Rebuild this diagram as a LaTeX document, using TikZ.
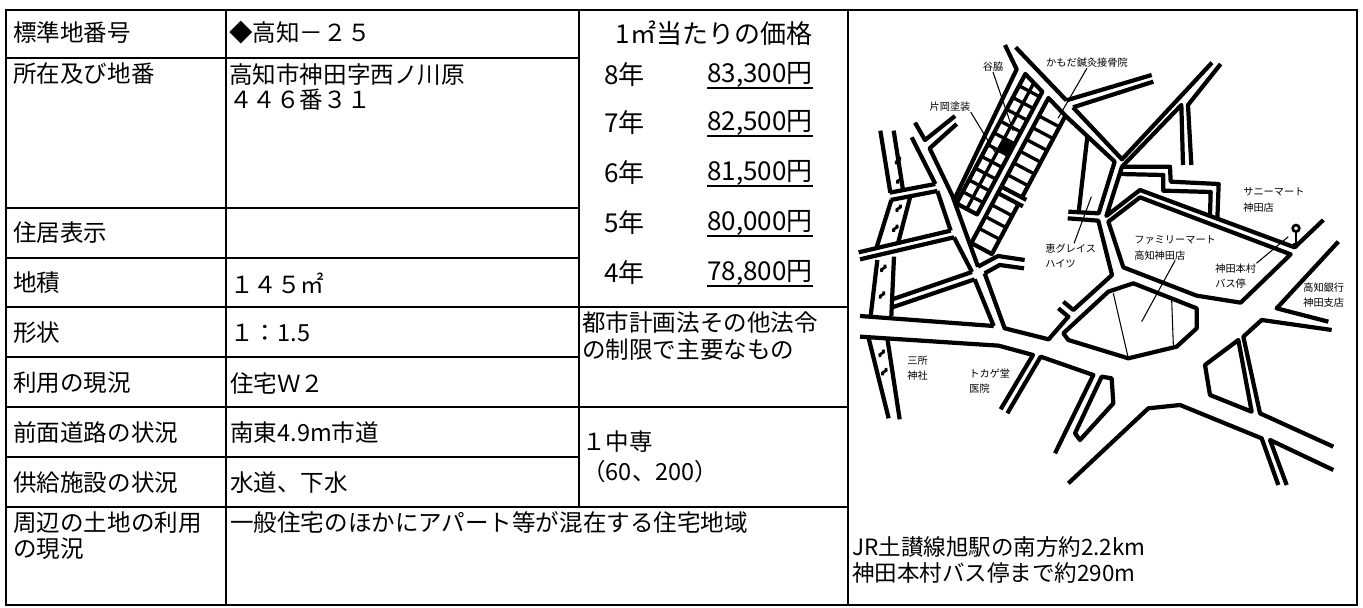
\documentclass[tikz,border=0pt]{standalone}
\usepackage{fontspec}
\setmainfont{Noto Sans CJK JP}
\begin{document}
\begin{tikzpicture}[
        x=0.02cm, y=-0.02cm,
        frame/.style={line width=1.5pt},
        rule/.style={line width=1.1pt},
        cell/.style={anchor=west, inner sep=0pt, align=left, font=\fontsize{13.4}{14.7}\selectfont},
        price/.style={anchor=west, inner sep=0pt, font=\fontsize{14.8}{17}\selectfont},
        note/.style={anchor=west, inner sep=0pt, font=\fontsize{12.8}{15}\selectfont},
        place/.style={inner sep=0pt, align=left, font=\fontsize{5.8}{8.8}\selectfont},
        road/.style={line width=2.4pt, line join=round},
        lot/.style={line width=1.9pt},
        wave/.style={line width=1.6pt},
        lead/.style={line width=0.6pt},
        underline/.style={line width=0.9pt}
      ]
      \useasboundingbox (0,0) rectangle (1363,608);

      % Table frame
      \draw[frame] (6,10) rectangle (1357,605);
      \draw[rule] (226,10) -- (226,605);
      \draw[rule] (579,10) -- (579,507);
      \draw[rule] (848,10) -- (848,605);
      \draw[rule] (6,58) -- (579,58);
      \draw[rule] (6,208) -- (579,208);
      \draw[rule] (6,258) -- (579,258);
      \draw[rule] (6,307) -- (848,307);
      \draw[rule] (6,357) -- (579,357);
      \draw[rule] (6,407) -- (848,407);
      \draw[rule] (6,457) -- (579,457);
      \draw[rule] (6,507) -- (848,507);

      % Row labels
      \node[cell] (number label) at (13,33) {標準地番号};
      \node[cell] (address label) at (13,74) {所在及び地番};
      \node[cell] (residence label) at (13,233) {住居表示};
      \node[cell] (area label) at (13,283) {地積};
      \node[cell] (shape label) at (13,333) {形状};
      \node[cell] (use label) at (13,383) {利用の現況};
      \node[cell] (road label) at (13,433) {前面道路の状況};
      \node[cell] (supply label) at (13,483) {供給施設の状況};
      \node[cell] (around label) at (13,536) {周辺の土地の利用\\の現況};

      % Row values
      \node[cell] (number value) at (229,33) {◆高知－２５};
      \node[cell] (address value) at (229,87) {高知市神田字西ノ川原\\４４６番３１};
      \node[cell] (area value) at (230,283) {１４５㎡};
      \node[cell] (shape value) at (230,333) {１：1.5};
      \node[cell] (use value) at (230,383) {住宅Ｗ２};
      \node[cell] (road value) at (230,433) {南東4.9m市道};
      \node[cell] (supply value) at (230,483) {水道、下水};
      \node[cell] (around value) at (230,523) {一般住宅のほかにアパート等が混在する住宅地域};

      % Price column
      \node[price, anchor=center] (price head) at (714,33) {1㎡当たりの価格};
      \node[price] (year8) at (604,75) {8年};
      \node[price] (price8) at (707,75) {83,300円};
      \node[price] (year7) at (604,123) {7年};
      \node[price] (price7) at (707,123) {82,500円};
      \node[price] (year6) at (604,173) {6年};
      \node[price] (price6) at (707,173) {81,500円};
      \node[price] (year5) at (604,223) {5年};
      \node[price] (price5) at (707,223) {80,000円};
      \node[price] (year4) at (604,273) {4年};
      \node[price] (price4) at (707,273) {78,800円};
      \draw[underline] (price8.south west) -- (price8.south east);
      \draw[underline] (price7.south west) -- (price7.south east);
      \draw[underline] (price6.south west) -- (price6.south east);
      \draw[underline] (price5.south west) -- (price5.south east);
      \draw[underline] (price4.south west) -- (price4.south east);

      % Zoning
      \node[cell, font=\fontsize{13.4}{15.3}\selectfont] (law label) at (582,336) {都市計画法その他法令\\の制限で主要なもの};
      \node[cell, font=\fontsize{13.4}{17}\selectfont] (zone value) at (582,457) {１中専\\（60、200）};

      % Map
      \begin{scope}[shift={(848,10)}, scale=1/3]
        % river and west streets
        \draw[road] (97,362) -- (127,548);
        \draw[road] (137,362) -- (165,540);
        \draw[road] (125,548) -- (262,522);
        \draw[road] (128,570) -- (268,543);
        \draw[road] (130,570) -- (85,715);
        \draw[road] (187,559) -- (150,700);
        \draw[road] (32,727) -- (308,662);
        \draw[road] (36,748) -- (318,682);
        \draw[road] (88,750) -- (68,918);
        \draw[road] (138,740) -- (130,918);
        \draw[road] (133,868) -- (372,786);
        \draw[road] (133,892) -- (380,808);
        \draw[road] (62,985) -- (122,1225);
        \draw[road] (118,985) -- (155,1228);
        \draw[wave] (145,463) .. controls (138,449) and (162,455) .. (155,441);
        \draw[wave] (149,521) .. controls (142,507) and (166,513) .. (159,499);
        \draw[wave] (147,606) .. controls (140,592) and (164,598) .. (157,584);
        \draw[wave] (137,666) .. controls (130,652) and (154,658) .. (147,644);
        \draw[wave] (101,786) .. controls (94,772) and (118,778) .. (111,764);
        \draw[wave] (97,866) .. controls (90,852) and (114,858) .. (107,844);
        \draw[wave] (96,1041) .. controls (89,1027) and (113,1033) .. (106,1019);
        \draw[wave] (104,1096) .. controls (97,1082) and (121,1088) .. (114,1074);

        % main road
        \draw[road] (36,918) -- (437,948);
        \draw[road] (36,980) -- (452,1007) -- (555,1035) -- (458,1198);
        \draw[road] (478,1210) -- (578,1040) -- (736,1095) -- (621,1330);
        \draw[road] (761,1100) -- (791,1105) -- (796,1180) -- (696,1290) -- (681,1270) -- cycle;

        % north-west diagonal street
        \draw[road] (191,382) -- (262,522) (268,543) -- (308,662) (318,682) -- (372,786) (380,808) -- (437,948);
        \draw[road] (201,338) -- (231,390) -- (321,318);
        \draw[road] (326,342) -- (245,415) -- (313,557) -- (390,770);
        \draw[road] (410,790) -- (470,955) -- (602,988) -- (661,920) -- (631,895);
        \draw[road] (390,770) -- (450,738) -- (530,750);
        \draw[road] (410,790) -- (455,765) -- (528,775);

        % lot strip
        \draw[road] (471,105) -- (506,178) -- (318,570);
        \begin{scope}[shift={(532,192)}, rotate=-28]
          \draw[road] (0,0) -- (70,23) -- (70,440) -- (0,440) -- cycle;
          \draw[lot] (35,11) -- (35,440);
          \draw[lot] (0,40) -- (70,40) (0,80) -- (70,80) (0,120) -- (70,120)
            (0,160) -- (70,160) (0,200) -- (70,200) (0,240) -- (70,240)
            (0,280) -- (70,280) (0,320) -- (70,320) (0,360) -- (70,360) (0,400) -- (70,400);
          \fill (36,202) rectangle (69,238);
          \draw[road] (165,332) -- (165,54) -- (95,31) -- (95,524) -- (165,524) -- (165,354);
          \draw[road] (95,332) -- (180,332);
          \draw[road] (95,354) -- (180,354);
          \draw[lot] (95,92) -- (165,92) (95,132) -- (165,132) (95,172) -- (165,172)
            (95,212) -- (165,212) (95,252) -- (165,252) (95,292) -- (165,292)
            (95,394) -- (165,394) (95,434) -- (165,434) (95,474) -- (165,474);
          \coordinate (tani tip) at (48,168);
          \coordinate (kataoka tip) at (30,250);
          \coordinate (kamoda tip) at (149,71);
        \end{scope}

        % south-east street and north-east streets
        \draw[road] (503,112) -- (655,271) (675,292) -- (822,448) -- (1092,158);
        \draw[road] (655,271) -- (911,195);
        \draw[road] (675,292) -- (916,215);
        \draw[road] (652,317) -- (800,455) -- (752,610) -- (661,605);
        \draw[road] (659,625) -- (751,632) -- (792,795) -- (676,900) -- (646,875);
        \draw[road] (718,380) -- (692,607);
        \draw[road] (822,470) -- (1000,285) -- (1005,465);
        \draw[road] (1030,465) -- (1020,285) -- (1118,162);

        % blocks round the convenience store
        \draw[road] (1108,628) -- (1112,522) -- (968,515) -- (966,470) -- (822,470) -- (775,618) -- (876,540) -- (1340,712) -- (1426,630);
        \draw[road] (815,492) -- (946,495) -- (946,542) -- (1088,546) -- (1086,618);
        \draw[road] (781,635) -- (876,562) -- (1328,733) -- (1178,878) -- (1046,857) -- (826,772) -- cycle;
        \draw[road] (646,970) -- (781,845) -- (856,820) -- (1046,895) -- (1046,955) -- (986,1010) -- (841,1045) -- (661,990) -- cycle;
        \draw[lead] (796,850) -- (841,1045);
        \draw[lead] (971,870) -- (976,1005);

        % east and south streets
        \draw[road] (661,1420) -- (901,1195) -- (996,1185) -- (1241,1285) -- (1291,1425);
        \draw[road] (1316,1425) -- (1266,1290) -- (1456,1380);
        \draw[road] (1456,1310) -- (1236,1210) -- (1186,980) -- (1241,930) -- (1451,960);
        \draw[road] (1441,935) -- (1286,895) -- (1471,695);
        \draw[road] (1071,1065) -- (1171,990) -- (1211,1205) -- (1086,1155) -- cycle;

        % bus stop
        \draw[line width=1.5pt] (1344,655) circle (10);
        \draw[line width=1.5pt] (1344,665) -- (1344,702);
        \draw[line width=1.5pt] (1336,702) -- (1352,702);

        \coordinate (megumi tip) at (730,560);
        \coordinate (fm tip) at (881,935);
        \coordinate (bus tip) at (1321,680);
      \end{scope}

      % Map labels
      \node[place] (tani) at (993,67) {谷脇};
      \node[place] (kamoda) at (1087,63) {かもだ鍼灸接骨院};
      \node[place] (kataoka) at (950,107) {片岡塗装};
      \node[place, anchor=west] (sunny) at (1243,200) {サニーマート\\神田店};
      \node[place, anchor=west] (fm) at (1134,248) {ファミリーマート\\高知神田店};
      \node[place, anchor=west] (megumi) at (1045,256) {恵グレイス\\ハイツ};
      \node[place, anchor=west] (bus) at (1215,276) {神田本村\\バス停};
      \node[place, anchor=west] (bank) at (1303,295) {高知銀行\\神田支店};
      \node[place, anchor=west] (shrine) at (907,368) {三所\\神社};
      \node[place, anchor=west] (clinic) at (969,381) {トカゲ堂\\医院};

      % Leaders
      \draw[lead] (tani.south) -- (tani tip);
      \draw[lead] (kataoka.south east) -- (kataoka tip);
      \draw[lead] (kamoda.south) -- (kamoda tip);
      \draw[lead] (megumi.75) -- (megumi tip);
      \draw[lead] (fm.south) -- (fm tip);
      \draw[lead] (bus.north east) -- (bus tip);

      % Access notes
      \node[note] (station note) at (852,547) {JR土讃線旭駅の南方約2.2km};
      \node[note] (bus note) at (852,573) {神田本村バス停まで約290m};
    \end{tikzpicture}
\end{document}
